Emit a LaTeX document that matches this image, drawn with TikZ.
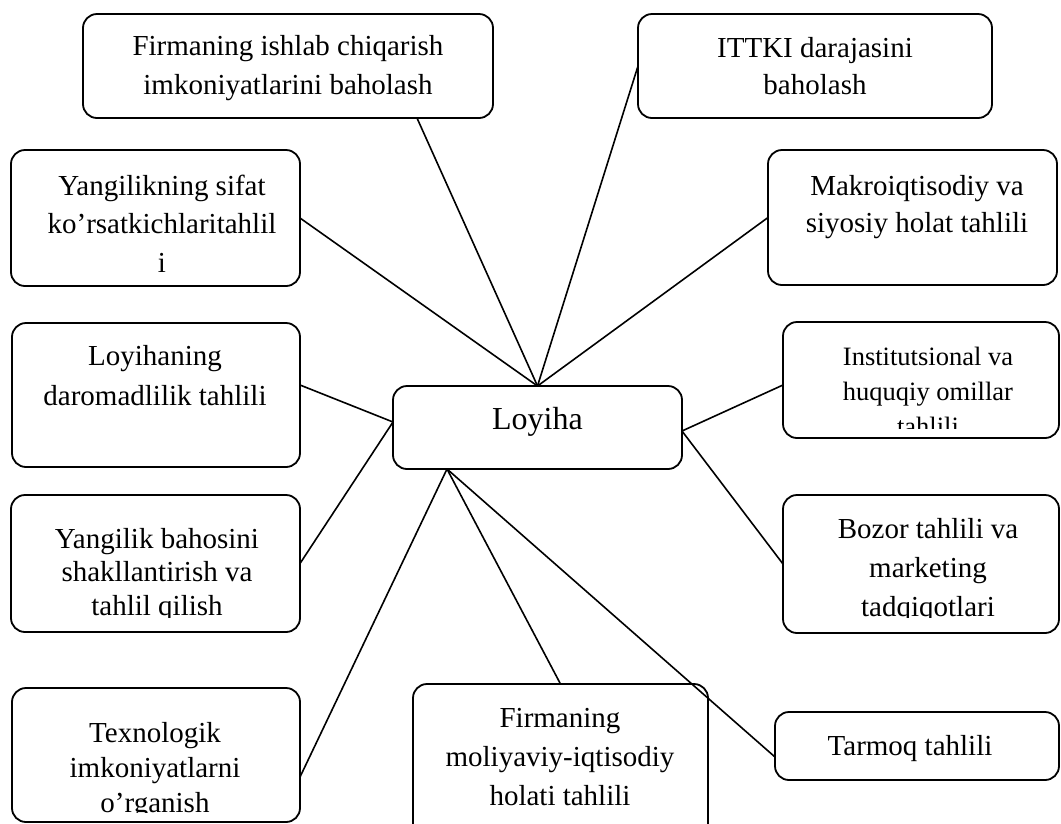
\documentclass[tikz,border=0pt]{standalone}
\usepackage{fontspec}
\setmainfont{Liberation Serif}
\begin{document}
\begin{tikzpicture}[x=1pt,y=-1pt,
  box/.style={draw, line width=1.8pt, rounded corners=14pt, outer sep=0pt, inner sep=0pt},
  lbl/.style={align=center, anchor=base, inner sep=0pt, font=\fontsize{29}{38}\selectfont},
  link/.style={line width=1.6pt}]
\useasboundingbox (0,0) rectangle (1061,823);

% boxes
\node[box, minimum width=289pt, minimum height=83pt]  (loyiha) at (537.5,427.5) {};
\node[box, minimum width=410pt, minimum height=104pt] (b1)  at (288,66) {};
\node[box, minimum width=354pt, minimum height=104pt] (b2)  at (815,66) {};
\node[box, minimum width=289pt, minimum height=136pt] (b3)  at (155.5,218) {};
\node[box, minimum width=289pt, minimum height=135pt] (b4)  at (912.5,217.5) {};
\node[box, minimum width=288pt, minimum height=144pt] (b5)  at (156,395) {};
\node[box, minimum width=276pt, minimum height=116pt] (b6)  at (921,380) {};
\node[box, minimum width=289pt, minimum height=137pt] (b7)  at (155.5,563.5) {};
\node[box, minimum width=276pt, minimum height=138pt] (b8)  at (921,564) {};
\node[box, minimum width=288pt, minimum height=134pt] (b9)  at (156,755) {};
\node[box, minimum width=295pt, minimum height=156pt] (b10) at (560.5,762) {};
\node[box, minimum width=284pt, minimum height=68pt]  (b11) at (917,746) {};

% texts (anchored at the baseline of the last line)
\node[lbl, font=\fontsize{32}{38}\selectfont] (loyihat) at (537.5,429) {Loyiha};
\node[lbl, font=\fontsize{29}{39}\selectfont] (b1t) at (288,94) {Firmaning ishlab chiqarish\\imkoniyatlarini baholash};
\node[lbl, font=\fontsize{29}{37}\selectfont] (b2t) at (815,94) {ITTKI darajasini\\baholash};
\node[lbl, font=\fontsize{29}{38.5}\selectfont] (b3t) at (162,272) {Yangilikning sifat\\ko’rsatkichlaritahlil\\i};
\node[lbl, font=\fontsize{29}{37}\selectfont] (b4t) at (917,232) {Makroiqtisodiy va\\siyosiy holat tahlili};
\node[lbl, font=\fontsize{29}{40}\selectfont] (b5t) at (155,405) {Loyihaning\\daromadlilik tahlili};
\begin{scope}
  \clip (b6.north west) rectangle (1061,428);
  \node[lbl, font=\fontsize{26.5}{35}\selectfont] (b6t) at (928,435) {Institutsional va\\huquqiy omillar\\tahlili};
\end{scope}
\begin{scope}
  \clip (b7.north west) rectangle (300,617);
  \node[lbl, font=\fontsize{29}{33.5}\selectfont] (b7t) at (157,615) {Yangilik bahosini\\shakllantirish va\\tahlil qilish};
\end{scope}
\begin{scope}
  \clip (b8.north west) rectangle (1061,617);
  \node[lbl, font=\fontsize{29}{39}\selectfont] (b8t) at (928,616) {Bozor tahlili va\\marketing\\tadqiqotlari};
\end{scope}
\begin{scope}
  \clip (b9.north west) rectangle (300,812);
  \node[lbl, font=\fontsize{29}{35}\selectfont] (b9t) at (155,812) {Texnologik\\imkoniyatlarni\\o’rganish};
\end{scope}
\node[lbl, font=\fontsize{29}{39}\selectfont] (b10t) at (560,805) {Firmaning\\moliyaviy-iqtisodiy\\holati tahlili};
\node[lbl] (b11t) at (910,755) {Tarmoq tahlili};

% connectors
\draw[link] (loyiha.north) -- ([xshift=129pt]b1.south);
\draw[link] (loyiha.north) -- (b2.west);
\draw[link] (loyiha.north) -- (b3.east);
\draw[link] (loyiha.north) -- (b4.west);
\draw[link] ([yshift=5.5pt]loyiha.west) -- ([yshift=10pt]b5.east);
\draw[link] ([yshift=5.5pt]loyiha.west) -- (b7.east);
\draw[link] ([yshift=-3.5pt]loyiha.east) -- ([yshift=-5pt]b6.west);
\draw[link] ([yshift=-3.5pt]loyiha.east) -- (b8.west);
\draw[link] ([xshift=-90.5pt]loyiha.south) -- ([yshift=-22pt]b9.east);
\draw[link] ([xshift=-90.5pt]loyiha.south) -- (b10.north);
\draw[link] ([xshift=-90.5pt]loyiha.south) -- ([yshift=-11pt]b11.west);
\end{tikzpicture}
\end{document}
